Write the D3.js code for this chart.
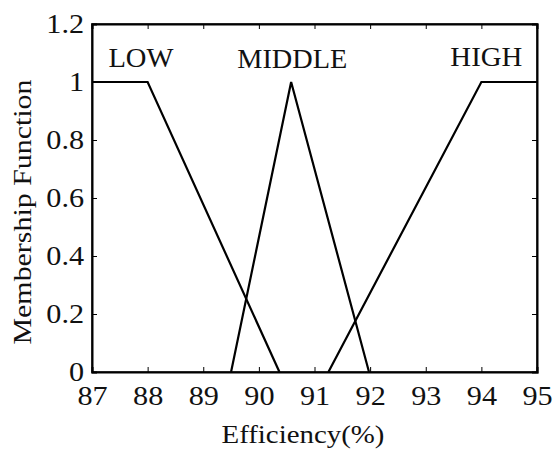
<!DOCTYPE html>
<html>
<head>
<meta charset="utf-8">
<script src="https://cdn.jsdelivr.net/npm/d3@7"></script>
</head>
<body style="margin:0; background:#fff">
<div id="viz"></div>
<script>
var width = 554, height = 453;
var margin = {left: 92, right: 17, top: 24, bottom: 81};
var serif = "'Liberation Serif'";

// membership functions (x = efficiency %, y = membership)
var lowX = [87, 88, 90.37];
var lowY = [1, 1, 0];
var midX = [89.5, 90.58, 91.98];
var midY = [0, 1, 0];
var highX = [91.25, 94, 95];
var highY = [0, 1, 1];

var xTicks = [87, 88, 89, 90, 91, 92, 93, 94, 95];
var yTicks = [0, 0.2, 0.4, 0.6, 0.8, 1, 1.2];
var setNames = ["LOW", "MIDDLE", "HIGH"];
var setLabelX = [87.88, 90.6, 94.09];

var svg = d3.select("#viz").append("svg")
	.attr("width", width)
	.attr("height", height);

var x = d3.scaleLinear().domain([87, 95]).range([margin.left, width - margin.right]);
var y = d3.scaleLinear().domain([0, 1.2]).range([height - margin.bottom, margin.top]);

// frame
svg.append("rect")
	.attr("x", x(87)).attr("y", y(1.2))
	.attr("width", x(95) - x(87)).attr("height", y(0) - y(1.2))
	.attr("fill", "none").attr("stroke", "#000").attr("stroke-width", 1.5);

// axes, ticks pointing inwards
var xAxis = svg.append("g")
	.attr("transform", "translate(0," + y(0) + ")")
	.call(d3.axisBottom(x).tickValues(xTicks).tickSize(-5).tickPadding(14).tickFormat(d3.format("d")));
var xTop = svg.append("g")
	.attr("transform", "translate(0," + y(1.2) + ")")
	.call(d3.axisTop(x).tickValues(xTicks).tickSize(-5).tickFormat(""));
var yAxis = svg.append("g")
	.attr("transform", "translate(" + x(87) + ",0)")
	.call(d3.axisLeft(y).tickValues(yTicks).tickSize(-5).tickPadding(7).tickFormat(function (d) { return String(+d.toFixed(1)); }));
var yRight = svg.append("g")
	.attr("transform", "translate(" + x(95) + ",0)")
	.call(d3.axisRight(y).tickValues(yTicks).tickSize(-5).tickFormat(""));

[xAxis, xTop, yAxis, yRight].forEach(function (g) {
	g.select(".domain").attr("stroke-width", 2);
	g.selectAll(".tick line").attr("stroke-width", 1);
});
// the original lettering is slightly stretched sideways
[xAxis, yAxis].forEach(function (g) {
	g.selectAll("text")
		.style("font-family", serif)
		.attr("font-size", 27)
		.attr("fill", "#111")
		.attr("transform", "scale(1.12,1)");
});

// membership lines
var line = d3.line().x(function (d) { return x(d[0]); }).y(function (d) { return y(d[1]); });
[[lowX, lowY], [midX, midY], [highX, highY]].forEach(function (s) {
	svg.append("path")
		.datum(d3.zip(s[0], s[1]))
		.attr("d", line)
		.attr("fill", "none")
		.attr("stroke", "#000")
		.attr("stroke-width", 2.2);
});

// set names
var nameBase = [67, 68, 66];
var nameLen = [65, 110, 72];
svg.selectAll("text.setname")
	.data(setNames)
	.enter()
	.append("text")
		.attr("class", "setname")
		.attr("x", function (d, i) { return x(setLabelX[i]); })
		.attr("y", function (d, i) { return nameBase[i]; })
		.attr("text-anchor", "middle")
		.style("font-family", serif)
		.attr("font-size", 27)
		.attr("fill", "#111")
		.attr("textLength", function (d, i) { return nameLen[i]; })
		.attr("lengthAdjust", "spacingAndGlyphs")
		.text(function (d) { return d; });

// axis titles
svg.append("text")
	.attr("x", 303).attr("y", 443)
	.attr("text-anchor", "middle")
	.style("font-family", serif)
	.attr("font-size", 26)
	.attr("fill", "#111")
	.attr("textLength", 163)
	.attr("lengthAdjust", "spacingAndGlyphs")
	.text("Efficiency(%)");
svg.append("text")
	.attr("transform", "translate(31,212) rotate(-90)")
	.attr("text-anchor", "middle")
	.style("font-family", serif)
	.attr("font-size", 26)
	.attr("fill", "#111")
	.attr("textLength", 265)
	.attr("lengthAdjust", "spacingAndGlyphs")
	.text("Membership Function");
</script>
</body>
</html>
